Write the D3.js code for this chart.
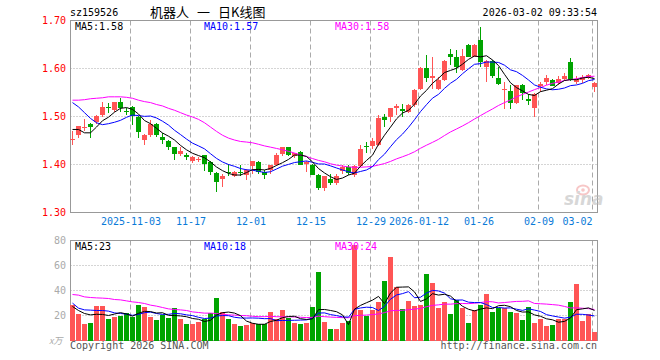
<!DOCTYPE html>
<html>
<head>
<meta charset="utf-8">
<script src="https://cdn.jsdelivr.net/npm/d3@7"></script>
<style>
  html, body { margin: 0; padding: 0; background: #fff; }
  svg { display: block; }
  text { font-family: "DejaVu Sans Mono", monospace; font-size: 10px; }
</style>
</head>
<body>
<div id="chart"></div>
<script>
// daily K line, 2025-10-20 .. 2026-03-02
const opens = [1.452,1.462,1.477,1.484,1.489,1.503,1.519,1.513,1.530,1.511,
  1.519,1.500,1.451,1.462,1.484,1.457,1.449,1.436,1.422,1.419,
  1.407,1.411,1.419,1.405,1.382,1.371,1.385,1.376,1.384,1.378,
  1.397,1.406,1.385,1.389,1.399,1.422,1.436,1.417,1.427,1.400,
  1.400,1.379,1.353,1.369,1.362,1.385,1.394,1.379,1.397,1.438,
  1.438,1.440,1.498,1.498,1.517,1.515,1.510,1.524,1.558,1.602,
  1.579,1.558,1.576,1.631,1.623,1.597,1.650,1.626,1.660,1.602,
  1.615,1.581,1.557,1.553,1.528,1.565,1.536,1.517,1.562,1.572,
  1.577,1.571,1.577,1.614,1.572,1.576,1.581,1.562];
const highs = [1.469,1.481,1.494,1.486,1.503,1.530,1.528,1.531,1.539,1.518,
  1.521,1.501,1.463,1.492,1.486,1.466,1.451,1.437,1.436,1.423,
  1.417,1.415,1.420,1.408,1.384,1.380,1.401,1.386,1.398,1.391,
  1.408,1.408,1.388,1.400,1.423,1.437,1.437,1.425,1.429,1.407,
  1.402,1.381,1.377,1.381,1.381,1.398,1.398,1.398,1.440,1.447,
  1.456,1.503,1.506,1.518,1.526,1.526,1.526,1.558,1.603,1.628,
  1.624,1.583,1.617,1.640,1.638,1.641,1.652,1.652,1.686,1.617,
  1.617,1.604,1.572,1.565,1.566,1.567,1.547,1.549,1.572,1.586,
  1.578,1.585,1.590,1.621,1.585,1.587,1.589,1.572];
const lows = [1.441,1.455,1.469,1.455,1.485,1.499,1.508,1.510,1.510,1.503,
  1.482,1.455,1.441,1.458,1.457,1.443,1.431,1.410,1.418,1.410,
  1.404,1.405,1.387,1.379,1.342,1.353,1.377,1.374,1.376,1.368,
  1.381,1.381,1.369,1.381,1.397,1.417,1.418,1.413,1.398,1.384,
  1.378,1.347,1.344,1.358,1.357,1.381,1.378,1.374,1.395,1.423,
  1.433,1.438,1.478,1.489,1.503,1.498,1.508,1.520,1.556,1.572,
  1.558,1.556,1.574,1.607,1.591,1.595,1.625,1.624,1.603,1.572,
  1.580,1.566,1.516,1.516,1.526,1.535,1.523,1.500,1.550,1.565,
  1.563,1.565,1.573,1.573,1.567,1.570,1.578,1.551];
const closes = [1.453,1.480,1.478,1.478,1.501,1.519,1.517,1.530,1.518,1.509,
  1.500,1.469,1.462,1.485,1.461,1.451,1.436,1.422,1.429,1.415,
  1.415,1.412,1.400,1.384,1.363,1.377,1.383,1.384,1.383,1.389,
  1.407,1.386,1.378,1.399,1.420,1.436,1.420,1.423,1.400,1.405,
  1.379,1.351,1.377,1.361,1.376,1.394,1.382,1.397,1.433,1.436,
  1.449,1.496,1.491,1.517,1.522,1.510,1.524,1.555,1.602,1.581,
  1.584,1.576,1.615,1.624,1.603,1.627,1.626,1.650,1.615,1.615,
  1.583,1.568,1.558,1.527,1.565,1.549,1.531,1.547,1.567,1.580,
  1.565,1.579,1.584,1.576,1.579,1.583,1.587,1.570];
// volume, 万
const volumes = [28.5,21.3,13.3,14.1,27.7,27.7,17.3,18.9,20.0,22.1,
  19.2,28.5,26.9,18.9,16.5,20.3,18.1,26.1,17.3,13.3,
  13.3,14.9,17.3,22.1,34.1,22.9,17.3,13.3,11.7,12.5,
  14.1,13.3,13.3,22.9,17.3,24.5,18.1,14.1,13.3,14.1,
  26.9,54.9,14.9,9.3,9.3,14.1,16.0,76.5,24.5,20.0,
  24.5,30.9,47.7,66.9,42.9,25.3,31.7,27.7,28.5,53.3,
  46.1,26.1,30.9,21.3,32.5,26.1,14.1,24.5,28.5,37.3,
  22.9,26.1,26.1,22.9,22.1,16.5,26.9,14.1,17.3,12.0,
  12.5,17.3,17.3,30.9,45.3,15.7,21.3,6.9];

// MA values before a full window exists
const ma5Head = [1.473,1.473,1.466,1.466];
const ma10Head = [1.529,1.520,1.508,1.496,1.487,1.483,1.485,1.488,1.492];
const ma30Head = [1.534,1.534,1.535,1.537,1.538,1.539,1.541,1.541,1.541,1.540,
  1.538,1.534,1.531,1.529,1.525,1.522,1.517,1.513,1.508,1.503,
  1.499,1.494,1.487,1.478,1.469,1.461,1.455,1.451,1.448];
const vMa5Head = [27.2,24.0,21.6,20.5];
const vMa10Head = [29.9,25.9,24.5,24.3,24.0,24.0,23.5,22.1,21.6];
const vMa30Head = [36.8,36.3,34.9,34.4,34.1,33.9,33.6,32.8,32.5,31.7,
  30.9,30.4,29.6,28.3,27.5,26.4,25.3,24.8,24.5,24.0,
  22.9,22.4,21.9,21.9,21.6,21.1,20.5,20.3,20.0];

const tickIdx = [10,20,30,40,50,58,68,78,87];
const tickLabels = ["2025-11-03","11-17","12-01","12-15","12-29","2026-01-12","01-26","02-09","03-02"];
const priceTicks = [1.30,1.40,1.50,1.60,1.70];
const volTicks = [20,40,60,80];

const priceMaLabels = ["MA5:1.58","MA10:1.57","MA30:1.58"];
const volMaLabels = ["MA5:23","MA10:18","MA30:24"];

const width = 660, height = 360;
const red = "#ff5555", green = "#00a400";
const maColors = ["#000000", "#0000ff", "#ff00ff"];
const left = 70.5, right = 597.5;

const svg = d3.select("#chart").append("svg")
  .attr("width", width).attr("height", height);

const n = closes.length;
const x = d3.scaleLinear().domain([0, n - 1]).range([72.5, 72.5 + 6 * (n - 1)]);
const y = d3.scaleLinear().domain([1.30, 1.70]).range([212.5, 20.5]);
const yv = d3.scaleLinear().domain([0, 80]).range([340.5, 240.5]);

const movingAvg = (vals, w, head) =>
  vals.map((v, i) => i < w - 1 ? head[i] : d3.mean(vals.slice(i - w + 1, i + 1)));

// grid
const grid = svg.append("g");
grid.selectAll(".hp").data(priceTicks.slice(1, -1)).join("line")
  .attr("x1", left).attr("x2", right)
  .attr("y1", (d) => y(d)).attr("y2", (d) => y(d))
  .attr("stroke", "#aaa").attr("stroke-dasharray", "1,2");
grid.selectAll(".hv").data(volTicks.slice(0, -1)).join("line")
  .attr("x1", left).attr("x2", right)
  .attr("y1", (d) => yv(d)).attr("y2", (d) => yv(d))
  .attr("stroke", "#aaa").attr("stroke-dasharray", "1,2");
[[y(1.70), y(1.30)], [yv(80), yv(0)]].forEach(([y1, y2]) => {
  grid.append("g").selectAll("line").data(tickIdx).join("line")
    .attr("x1", (d) => x(d) - 2).attr("x2", (d) => x(d) - 2)
    .attr("y1", y1).attr("y2", y2)
    .attr("stroke", "#aaa").attr("stroke-dasharray", "5,3");
});

// frames
svg.append("rect").attr("x", left).attr("y", y(1.70))
  .attr("width", right - left).attr("height", y(1.30) - y(1.70))
  .attr("fill", "none").attr("stroke", "#999");
svg.append("rect").attr("x", left).attr("y", yv(80))
  .attr("width", right - left).attr("height", yv(0) - yv(80))
  .attr("fill", "none").attr("stroke", "#999");

// candles
const idx = d3.range(n);
const colorOf = (i) => closes[i] >= opens[i] ? red : green;
const candles = svg.append("g").selectAll("g").data(idx).join("g");
candles.append("line")
  .attr("x1", (i) => x(i)).attr("x2", (i) => x(i))
  .attr("y1", (i) => Math.round(y(highs[i]))).attr("y2", (i) => Math.round(y(lows[i])))
  .attr("stroke", colorOf);
candles.append("rect")
  .attr("x", (i) => x(i) - 2.5).attr("width", 5)
  .attr("y", (i) => Math.round(y(Math.max(opens[i], closes[i]))))
  .attr("height", (i) => Math.max(1, Math.round(Math.abs(y(opens[i]) - y(closes[i])))))
  .attr("fill", colorOf);

// volume bars
svg.append("g").selectAll("rect").data(idx).join("rect")
  .attr("x", (i) => x(i) - 2.5).attr("width", 5)
  .attr("y", (i) => Math.round(yv(volumes[i])))
  .attr("height", (i) => Math.round(yv(0)) - Math.round(yv(volumes[i])))
  .attr("fill", colorOf);

// moving averages
const priceMAs = [movingAvg(closes, 5, ma5Head), movingAvg(closes, 10, ma10Head), movingAvg(closes, 30, ma30Head)];
const volMAs = [movingAvg(volumes, 5, vMa5Head), movingAvg(volumes, 10, vMa10Head), movingAvg(volumes, 30, vMa30Head)];
const priceLine = d3.line().x((d, i) => x(i)).y((d) => y(d));
const volLine = d3.line().x((d, i) => x(i)).y((d) => yv(d));
priceMAs.slice().reverse().forEach((s, k) => {
  svg.append("path").datum(s).attr("d", priceLine)
    .attr("fill", "none").attr("stroke", maColors[2 - k]).attr("stroke-width", 1);
});
volMAs.slice().reverse().forEach((s, k) => {
  svg.append("path").datum(s).attr("d", volLine)
    .attr("fill", "none").attr("stroke", maColors[2 - k]).attr("stroke-width", 1);
});

// axes
const yAxis = svg.append("g").attr("transform", `translate(${left - 0.5},0)`)
  .call(d3.axisLeft(y).tickValues(priceTicks).tickFormat(d3.format(".2f")).tickSize(0).tickPadding(4));
yAxis.select(".domain").remove();
yAxis.selectAll("text").attr("fill", "#f00")
  .style("font-family", "DejaVu Sans Mono").style("font-size", "10px");

const vAxis = svg.append("g").attr("transform", `translate(${left - 0.5},0)`)
  .call(d3.axisLeft(yv).tickValues(volTicks).tickFormat(d3.format("d")).tickSize(0).tickPadding(4));
vAxis.select(".domain").remove();
vAxis.selectAll("text").attr("fill", "#aaa")
  .style("font-family", "DejaVu Sans Mono").style("font-size", "10px");

const xAxis = svg.append("g").attr("transform", "translate(-2,212)")
  .call(d3.axisBottom(x).tickValues(tickIdx).tickFormat((d, i) => tickLabels[i]).tickSize(0).tickPadding(6));
xAxis.select(".domain").remove();
xAxis.selectAll("text").attr("fill", "#0a7ad8")
  .style("font-family", "DejaVu Sans Mono").style("font-size", "10px")
  .attr("x", (d, i) => {
    const tx = x(d) - 2, w = tickLabels[i].length * 6.02;
    return tx + w / 2 > 592 ? 592 - w / 2 - tx : 0;
  });

// MA labels
const maX = [75, 204, 335];
priceMaLabels.forEach((t, k) => {
  svg.append("text").attr("x", maX[k]).attr("y", 29.5).attr("fill", maColors[k]).text(t);
});
volMaLabels.forEach((t, k) => {
  svg.append("text").attr("x", maX[k]).attr("y", 249.5).attr("fill", maColors[k]).text(t);
});

// header
svg.append("text").attr("x", 70).attr("y", 16).attr("fill", "#000").text("sz159526");
const cjk = (tx, t) => svg.append("text").attr("x", tx).attr("y", 16.5)
  .style("font-family", "'Noto Sans CJK SC', sans-serif").style("font-size", "13px")
  .attr("fill", "#000").text(t);
cjk(150, "机器人");
cjk(197, "一");
cjk(218, "日K线图");
svg.append("text").attr("x", 597).attr("y", 16).attr("text-anchor", "end")
  .attr("fill", "#000").text("2026-03-02 09:33:54");

// footer
svg.append("text").attr("x", 49).attr("y", 344).attr("fill", "#aaa")
  .style("font-style", "italic").style("font-family", "'Noto Sans CJK SC', sans-serif")
  .style("font-size", "9px").text("x万");
svg.append("text").attr("x", 70).attr("y", 349).attr("fill", "#555").text("Copyright 2026 SINA.COM");
svg.append("text").attr("x", 597).attr("y", 349).attr("text-anchor", "end")
  .attr("fill", "#555").text("http://finance.sina.com.cn");

// sina watermark
const wm = svg.append("g").attr("opacity", 0.55);
wm.append("ellipse").attr("cx", 583).attr("cy", 190).attr("rx", 6).attr("ry", 4.5)
  .attr("fill", "none").attr("stroke", "#f29a9a").attr("stroke-width", 2);
wm.append("circle").attr("cx", 583).attr("cy", 190).attr("r", 1.8).attr("fill", "#f29a9a");
wm.append("text").attr("x", 564).attr("y", 205)
  .style("font-family", "'DejaVu Sans', sans-serif").style("font-size", "17px")
  .style("font-weight", "bold").style("font-style", "italic")
  .attr("fill", "#b8b8b8").text("sina");
</script>
</body>
</html>
